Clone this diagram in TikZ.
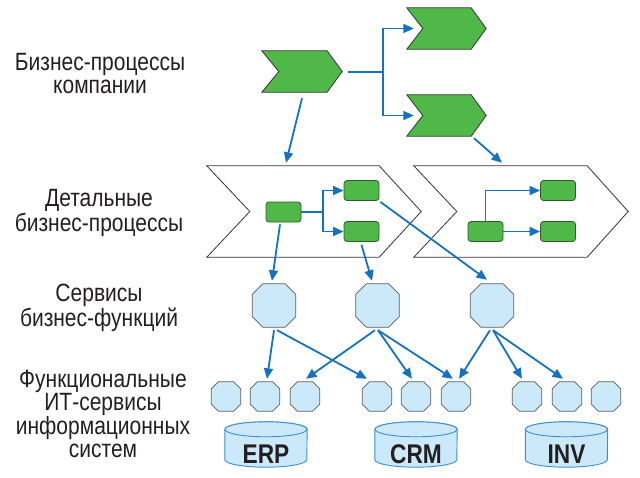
\documentclass[tikz,border=0pt]{standalone}
\usepackage{fontspec}
\setmainfont{Liberation Sans}[FakeStretch=0.84]
\usetikzlibrary{arrows.meta,calc,backgrounds}
\definecolor{grn}{HTML}{50B848}
\definecolor{grnline}{HTML}{2F5A2C}
\definecolor{lblue}{HTML}{CBE9F9}
\definecolor{octline}{HTML}{5A5A5A}
\definecolor{arrblue}{HTML}{1571C1}
\definecolor{cylline}{HTML}{3B8ED6}
\definecolor{txt}{HTML}{231F20}
\definecolor{chevline}{HTML}{333333}
\tikzset{
  lab/.style={anchor=base, align=center, text=txt, font=\fontsize{25}{22.5}\selectfont, inner sep=0},
  box/.style={inner sep=0, draw=none},
  gchev/.style={fill=grn, draw=chevline, line width=0.8pt, line join=miter},
  wchev/.style={draw=chevline, line width=0.8pt},
  rbox/.style={rounded corners=3pt, fill=grn, draw=grnline, line width=0.8pt, minimum width=35, minimum height=20, inner sep=0},
  octbig/.style={box, minimum width=43, minimum height=43},
  octsmall/.style={box, minimum width=29, minimum height=29},
  octdraw/.style={fill=lblue, draw=octline, line width=0.8pt},
  cylnode/.style={box, minimum width=82, minimum height=45, text=txt, font=\fontsize{27}{27}\selectfont\bfseries},
  cyl/.style={fill=lblue, draw=cylline, line width=0.9pt},
  arr/.style={draw=arrblue, line width=1.8pt, -{Triangle[length=10.5pt,width=9pt]}},
  ln/.style={draw=arrblue, line width=1.8pt}
}
\newcommand\drawchev[4]{\path[#4] (#1.north west) -- ([xshift=-#2pt]#1.north east) -- (#1.east) -- ([xshift=-#2pt]#1.south east) -- (#1.south west) -- ([xshift=#3pt]#1.west) -- cycle;}
\newcommand\drawoct[2]{\path[octdraw] ([xshift=#2pt]#1.north west) -- ([xshift=-#2pt]#1.north east) -- ([yshift=-#2pt]#1.north east) -- ([yshift=#2pt]#1.south east) -- ([xshift=-#2pt]#1.south east) -- ([xshift=#2pt]#1.south west) -- ([yshift=#2pt]#1.south west) -- ([yshift=-#2pt]#1.north west) -- cycle;}
\newcommand\drawcyl[1]{\begin{pgfonlayer}{background}
  \path[cyl] ([yshift=-7.5pt]#1.north west) -- ([yshift=7.5pt]#1.south west) arc[start angle=180,end angle=360,x radius=41pt,y radius=7.5pt] -- ([yshift=-7.5pt]#1.north east) arc[start angle=0,end angle=180,x radius=41pt,y radius=7.5pt] -- cycle;
  \path[cyl] ([yshift=-7.5pt]#1.north) ellipse[x radius=41pt,y radius=7.5pt];
\end{pgfonlayer}}
\begin{document}
\begin{tikzpicture}[x=1pt,y=-1pt]
\useasboundingbox (0,0) rectangle (640,477);
% left labels (anchor base = last line)
\node[lab] (t1) at (100,93) {Бизнес-процессы\\компании};
\node[lab] (t2) at (99,231) {Детальные\\бизнес-процессы};
\node[lab] (t3) at (99,326) {Сервисы\\бизнес-функций};
\node[lab] (t4) at (103,457) {Функциональные\\ИТ-сервисы\\информационных\\систем};
% top chevrons
\node[box, minimum width=80, minimum height=41] (pA) at (302,71.5) {};
\node[box, minimum width=79, minimum height=41] (pB) at (446.5,28.5) {};
\node[box, minimum width=79, minimum height=41] (pC) at (446.5,115.5) {};
\drawchev{pA}{15}{17}{gchev}
\drawchev{pB}{15}{16}{gchev}
\drawchev{pC}{15}{16}{gchev}
\coordinate (j1) at (383,72);
\draw[ln] ([xshift=6pt,yshift=-0.5pt]pA.east) -- (j1);
\draw[arr] (j1) |- ([xshift=7pt]pB.west);
\draw[arr] (j1) |- ([xshift=7pt]pC.west);
% big chevrons
\node[box, minimum width=214, minimum height=91] (bL) at (314,211.5) {};
\node[box, minimum width=214, minimum height=91] (bR) at (521,211.5) {};
\drawchev{bL}{42}{43}{wchev}
\drawchev{bR}{41}{43}{wchev}
\draw[arr] ([yshift=-6pt]pA.south) -- ([xshift=-28pt,yshift=3pt]bL.north);
\draw[arr] ([xshift=27.5pt,yshift=-2pt]pC.south) -- ([xshift=-19pt,yshift=3pt]bR.north);
% inner boxes
\node[rbox] (l1) at (283.5,212) {};
\node[rbox] (l2) at (361.5,190.5) {};
\node[rbox] (l3) at (361.5,231.5) {};
\node[rbox] (r1) at (485.5,231.5) {};
\node[rbox] (r2) at (558,190.5) {};
\node[rbox] (r3) at (558,231.5) {};
\coordinate (j2) at (323,212);
\draw[ln] (l1.east) -- (j2);
\draw[arr] (j2) |- (l2.west);
\draw[arr] (j2) |- (l3.west);
\draw[arr] (r1.north) |- (r2.west);
\draw[arr] (r1.east) -- (r3.west);
% big octagons
\node[octbig] (o1) at (274,305.5) {};
\node[octbig] (o2) at (377.5,305.5) {};
\node[octbig] (o3) at (492,305.5) {};
\drawoct{o1}{10.5}
\drawoct{o2}{10.5}
\drawoct{o3}{10.5}
\draw[arr] ([xshift=-3.5pt,yshift=-2pt]l1.south) -- ([xshift=-2pt,yshift=3pt]o1.north);
\draw[arr] ([yshift=-3pt]l3.south) -- ([xshift=-5.5pt,yshift=3pt]o2.north);
\draw[arr] ([xshift=1pt,yshift=-1pt]l2.south east) -- ([xshift=-5pt,yshift=4pt]o3.north);
% small octagons
\foreach \n/\x in {s1/226,s2/265,s3/305,s4/377,s5/416,s6/456,s7/527,s8/567,s9/606}{
  \node[octsmall] (\n) at (\x,396.5) {};
  \drawoct{\n}{7}
}
\draw[arr] ([yshift=-3pt]o1.south) -- ([xshift=2pt,yshift=3pt]s2.north);
\draw[arr] ([xshift=3pt,yshift=-3pt]o1.south) -- ([xshift=-10pt,yshift=3pt]s4.north);
\draw[arr] ([xshift=-2.5pt,yshift=-3pt]o2.south) -- ([xshift=1pt,yshift=3pt]s3.north);
\draw[arr] ([xshift=0.5pt,yshift=-3pt]o2.south) -- ([xshift=-4pt,yshift=3pt]s5.north);
\draw[arr] ([xshift=0.5pt,yshift=-3pt]o2.south) -- ([xshift=-3pt,yshift=3pt]s6.north);
\draw[arr] ([xshift=-2pt,yshift=-3pt]o3.south) -- ([xshift=3pt,yshift=3pt]s6.north);
\draw[arr] ([xshift=1pt,yshift=-3pt]o3.south) -- ([xshift=-5pt,yshift=3pt]s7.north);
\draw[arr] ([xshift=1pt,yshift=-3pt]o3.south) -- ([xshift=-4pt,yshift=3pt]s8.north);
% databases
\node[cylnode] (erp) at (266,444.5) {\raisebox{-18.5pt}[0pt][0pt]{ERP}};
\node[cylnode] (crm) at (416,444.5) {\raisebox{-18.5pt}[0pt][0pt]{CRM}};
\node[cylnode] (inv) at (566.5,444.5) {\raisebox{-18.5pt}[0pt][0pt]{INV}};
\drawcyl{erp}
\drawcyl{crm}
\drawcyl{inv}
\end{tikzpicture}
\end{document}
